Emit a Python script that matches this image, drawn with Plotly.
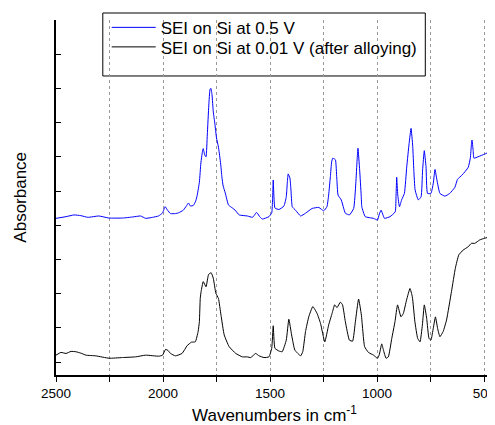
import plotly.graph_objects as go

# Wavenumbers (cm^-1) and absorbance (arbitrary offset units)
wn_05 = [2500, 2453, 2416, 2384, 2351, 2300, 2253, 2188, 2142, 2105, 2081, 2049, 2021, 2002,
         1990, 1979, 1965, 1942, 1928, 1905, 1891, 1881, 1872, 1858, 1847, 1840, 1830, 1823,
         1816, 1812, 1805, 1799, 1793, 1786, 1780, 1776, 1771, 1765, 1758, 1750, 1742, 1737,
         1730, 1725, 1719, 1709, 1694, 1675, 1663, 1644, 1606, 1582, 1572, 1564, 1556, 1551,
         1536, 1505, 1492, 1488, 1485, 1482, 1477, 1458, 1435, 1424, 1419, 1415, 1407, 1402,
         1396, 1381, 1357, 1334, 1303, 1272, 1261, 1249, 1234, 1226, 1218, 1212, 1207, 1200,
         1194, 1188, 1182, 1167, 1156, 1148, 1129, 1109, 1099, 1093, 1089, 1081, 1074, 1071,
         1055, 1016, 998, 989, 981, 972, 965, 939, 915, 911, 908, 903, 895, 885, 872, 861,
         850, 841, 833, 828, 822, 807, 794, 787, 779, 771, 764, 748, 737, 729, 720, 706,
         683, 660, 636, 624, 602, 574, 564, 559, 556, 551, 547, 528, 497, 474, 458]
abs_05 = [4.20, 4.25, 4.30, 4.28, 4.23, 4.27, 4.21, 4.21, 4.24, 4.27, 4.20, 4.23, 4.27, 4.36,
          4.54, 4.44, 4.34, 4.34, 4.36, 4.44, 4.56, 4.65, 4.56, 4.58, 4.71, 4.88, 5.26, 5.82,
          6.14, 6.24, 6.05, 6.00, 6.64, 7.51, 7.98, 8.00, 7.81, 7.31, 6.99, 6.55, 6.32, 6.11,
          5.76, 5.42, 5.15, 4.94, 4.59, 4.50, 4.44, 4.30, 4.27, 4.23, 4.30, 4.37, 4.33, 4.27,
          4.18, 4.25, 4.36, 4.74, 5.32, 4.88, 4.50, 4.46, 4.56, 4.83, 5.26, 5.50, 5.38, 5.03,
          4.54, 4.44, 4.27, 4.35, 4.49, 4.52, 4.47, 4.42, 4.54, 4.88, 5.42, 5.85, 5.96, 5.94,
          5.91, 5.38, 4.88, 4.74, 4.50, 4.35, 4.30, 4.49, 5.23, 5.91, 6.25, 5.61, 4.88, 4.54,
          4.25, 4.20, 4.15, 4.33, 4.44, 4.30, 4.20, 4.25, 4.39, 4.88, 5.40, 4.88, 4.54, 4.74,
          4.93, 5.71, 6.39, 6.83, 6.30, 5.61, 5.03, 4.74, 4.83, 5.61, 6.18, 5.71, 4.93, 4.93,
          5.23, 5.63, 5.32, 4.93, 4.85, 4.93, 5.11, 5.34, 5.47, 5.69, 5.96, 6.35, 6.49, 6.20,
          5.96, 6.00, 6.08, 6.15, 6.30]

wn_001 = [2500, 2477, 2453, 2430, 2407, 2384, 2360, 2314, 2252, 2190, 2128, 2081, 2020, 2002,
          1988, 1977, 1965, 1942, 1911, 1887, 1867, 1849, 1836, 1830, 1826, 1822, 1812, 1799,
          1787, 1775, 1765, 1753, 1741, 1729, 1714, 1691, 1660, 1629, 1606, 1590, 1567, 1551,
          1528, 1505, 1492, 1485, 1477, 1458, 1443, 1424, 1412, 1399, 1384, 1357, 1347, 1334,
          1319, 1300, 1280, 1264, 1244, 1226, 1210, 1198, 1187, 1171, 1161, 1148, 1129, 1114,
          1101, 1086, 1073, 1058, 1040, 1016, 998, 990, 978, 970, 958, 947, 931, 916, 904,
          888, 877, 862, 846, 835, 823, 810, 799, 788, 779, 768, 757, 748, 737, 727, 717,
          706, 691, 675, 652, 634, 618, 598, 574, 559, 543, 520, 497, 474, 458]
abs_001 = [0.20, 0.28, 0.25, 0.31, 0.30, 0.26, 0.20, 0.18, 0.11, 0.13, 0.15, 0.20, 0.17, 0.20,
           0.37, 0.34, 0.25, 0.18, 0.25, 0.48, 0.58, 0.59, 0.89, 1.18, 1.86, 2.06, 2.35, 2.20,
           2.56, 2.61, 2.45, 2.01, 1.86, 1.37, 0.79, 0.45, 0.25, 0.15, 0.15, 0.13, 0.25, 0.18,
           0.13, 0.15, 0.40, 1.06, 0.40, 0.32, 0.30, 0.64, 1.25, 0.79, 0.35, 0.18, 0.30, 0.89,
           1.32, 1.62, 1.42, 1.13, 0.59, 1.08, 1.42, 1.67, 1.59, 1.75, 1.67, 1.18, 0.64, 0.61,
           1.18, 1.84, 1.37, 0.45, 0.28, 0.20, 0.11, 0.20, 0.53, 0.35, 0.11, 0.15, 0.69, 1.18,
           1.67, 1.32, 1.42, 1.81, 2.15, 1.91, 1.18, 0.69, 0.59, 1.08, 1.67, 1.28, 0.69, 0.64,
           0.99, 1.32, 0.99, 0.74, 0.89, 1.23, 2.06, 2.74, 3.13, 3.27, 3.37, 3.47, 3.47, 3.57,
           3.62, 3.66, 3.76]

x_tickvals = [2500, 2250, 2000, 1750, 1500, 1250, 1000, 750, 500]
x_ticktext = ["2500", "", "2000", "", "1500", "", "1000", "", "500"]
names = ["SEI on Si at 0.5 V", "SEI on Si at 0.01 V (after alloying)"]

FONT = "Arial, Liberation Sans, sans-serif"

fig = go.Figure()
fig.add_trace(go.Scatter(x=wn_05, y=abs_05, mode="lines", name=names[0], legend="legend",
                         line=dict(color="#0000FF", width=1, shape="spline", smoothing=0.4)))
fig.add_trace(go.Scatter(x=wn_001, y=abs_001, mode="lines", name=names[1], legend="legend2",
                         line=dict(color="#000000", width=1, shape="spline", smoothing=0.4)))

# legend frame
fig.add_shape(type="rect", xref="paper", yref="paper",
              x0=0.1071, x1=0.8451, y0=0.8423, y1=1.0197,
              line=dict(color="black", width=1), fillcolor="white", layer="below")

legend_style = dict(xanchor="left", yanchor="middle", bgcolor="rgba(0,0,0,0)",
                    borderwidth=0, font=dict(family=FONT, size=17), itemwidth=44)

fig.update_layout(
    width=487, height=417,
    margin=dict(l=48, r=0, t=12, b=50),
    paper_bgcolor="white", plot_bgcolor="white",
    font=dict(family=FONT, size=14, color="black"),
    showlegend=True,
    legend=dict(x=0.116, y=0.978, **legend_style),
    legend2=dict(x=0.116, y=0.923, **legend_style),
    xaxis=dict(range=[2500, 458], tickvals=x_tickvals, ticktext=x_ticktext,
               ticks="outside", ticklen=5, tickwidth=1, tickcolor="black",
               showline=True, linecolor="black", linewidth=1.5,
               showgrid=True, gridcolor="#999999", griddash="dot", gridwidth=1,
               zeroline=False, tickfont=dict(size=13.5), ticklabeloverflow="allow",
               title=dict(text="Wavenumbers in cm<sup>-1</sup>", standoff=11,
                          font=dict(size=17))),
    yaxis=dict(range=[-0.38, 10.0], dtick=1, tick0=0, showticklabels=False,
               ticks="inside", ticklen=5, tickwidth=1, tickcolor="black",
               showline=True, linecolor="black", linewidth=1.5,
               showgrid=False, zeroline=False),
    annotations=[dict(text="Absorbance", textangle=-90, xref="paper", yref="paper",
                      x=-0.082, y=0.5, xanchor="center", yanchor="middle",
                      showarrow=False, font=dict(size=17))],
)

fig.write_html("out.html")
